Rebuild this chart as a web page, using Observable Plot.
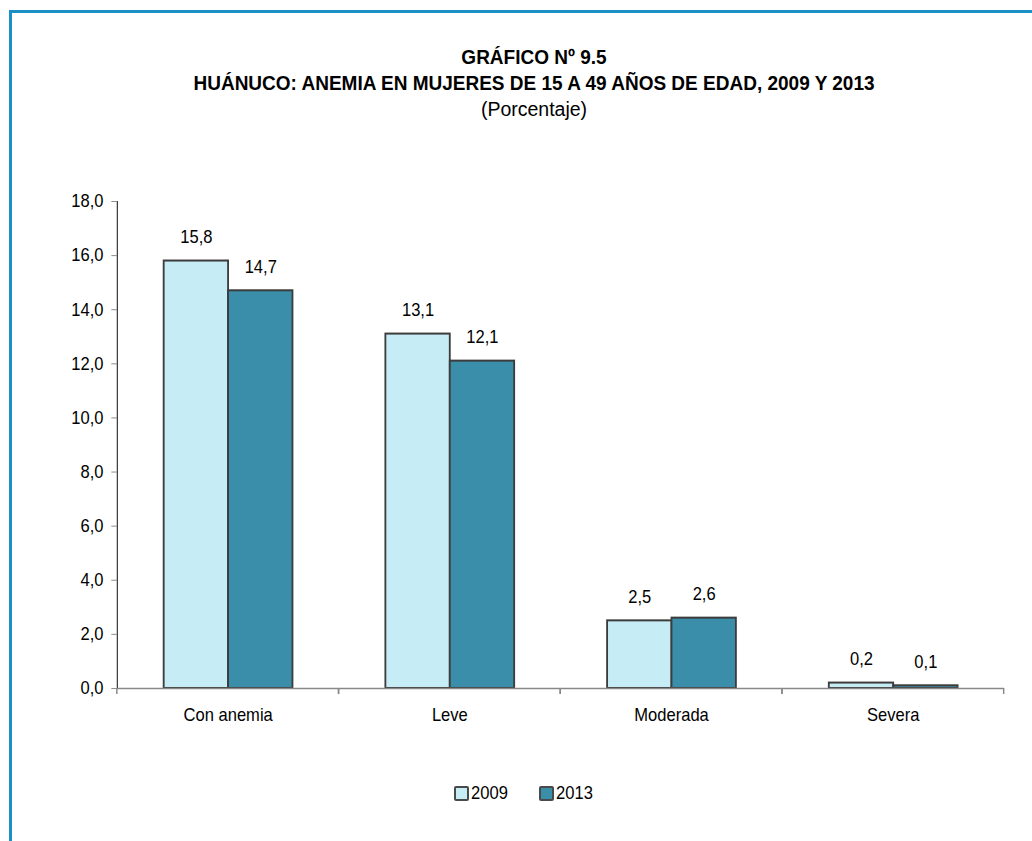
<!DOCTYPE html>
<html>
<head>
<meta charset="utf-8">
<script src="https://cdn.jsdelivr.net/npm/d3@7"></script>
<script src="https://cdn.jsdelivr.net/npm/@observablehq/plot@0.6"></script>
<style>
  html, body { margin: 0; padding: 0; background: #fff; }
  body { width: 1032px; height: 841px; position: relative; overflow: hidden;
         font-family: "Liberation Sans", Arial, sans-serif; color: #000; }
  #frame { position: absolute; left: 9px; top: 10px; right: -10px; bottom: -10px;
           border-top: 3px solid #1a90c6; border-left: 3px solid #1a90c6; }
  #title { position: absolute; left: 0; width: 1068px; top: 44px; text-align: center; }
  #title div { transform: scaleX(0.95); transform-origin: 534px 0; }
  #title .t1, #title .t2 { font-weight: bold; font-size: 20px; line-height: 26px; }
  #title .t3 { font-size: 19.5px; line-height: 26px; transform: none; }
  #chart { position: absolute; left: 0; top: 150px; width: 1032px; height: 583px; overflow: visible; }
  #chart svg { max-width: none !important; width: 1121.7px !important; height: 583px !important;
               transform: scaleX(0.92); transform-origin: 0 0; }
  #chart [aria-label^="y-axis"] path, #chart [aria-label^="y-axis"] line { stroke: #888; }
  #legend { position: absolute; top: 783px; left: 454px; display: flex; align-items: center; font-size: 18px; }
  #legend .item { display: flex; align-items: center; margin-right: 30px; }
  #legend .item span { display: inline-block; transform: scaleX(0.92); transform-origin: 0 50%; width: 38px; }
  #legend .sw { width: 11px; height: 11px; border: 2px solid #4a4a4a; border-radius: 2px; margin-right: 2px; }
</style>
</head>
<body>
<div id="frame"></div>
<div id="title">
  <div class="t1">GRÁFICO Nº 9.5</div>
  <div class="t2">HUÁNUCO: ANEMIA EN MUJERES DE 15 A 49 AÑOS DE EDAD, 2009 Y 2013</div>
  <div class="t3">(Porcentaje)</div>
</div>
<div id="chart"></div>
<div id="legend"></div>
<script>
const categories = ["Con anemia", "Leve", "Moderada", "Severa"];
const years = ["2009", "2013"];
const values2009 = [15.8, 13.1, 2.5, 0.2];
const values2013 = [14.7, 12.1, 2.6, 0.1];
const yTicks = [0, 2, 4, 6, 8, 10, 12, 14, 16, 18];
const colors = ["#c6ecf6", "#3a8ea9"];

const data = [];
categories.forEach((c, i) => {
  data.push({cat: c, year: "2009", value: values2009[i]});
  data.push({cat: c, year: "2013", value: values2013[i]});
});
const fmt = v => v.toFixed(1).replace(".", ",");

// text is drawn slightly narrow: the whole svg is compressed horizontally by S
const S = 0.92;

function boundaryTicks(index, scales, values, dims) {
  const g = d3.create("svg:g").attr("stroke", "#888").attr("stroke-width", 1.6);
  const y0 = scales.y(0);
  for (const x of [dims.marginLeft, dims.width - dims.marginRight]) {
    g.append("line").attr("x1", x).attr("x2", x).attr("y1", y0).attr("y2", y0 + 6);
  }
  return g.node();
}

const chart = Plot.plot({
  width: 1032 / S,
  height: 583,
  marginLeft: 116 / S,
  marginRight: 27 / S,
  marginTop: 51,
  marginBottom: 45,
  style: {fontFamily: '"Liberation Sans", Arial, sans-serif', fontSize: "18px", color: "#000", background: "transparent"},
  fx: {domain: categories, padding: 0, axis: "bottom", tickSize: 0, tickPadding: 20, label: null},
  x: {domain: years, axis: null, paddingInner: 0, paddingOuter: 0.72},
  y: {domain: [0, 18], ticks: yTicks, tickSize: 6, tickPadding: 9, tickFormat: fmt, label: null, line: true},
  color: {domain: years, range: colors},
  marks: [
    Plot.barY(data, {fx: "cat", x: "year", y: "value", fill: "year", stroke: "#3c3c3c", strokeWidth: 2}),
    Plot.ruleY([0], {stroke: "#888", strokeWidth: 1.5}),
    boundaryTicks,
    Plot.text(data, {fx: "cat", x: "year", y: "value", text: d => fmt(d.value), dy: -24, fontSize: 18})
  ]
});
document.getElementById("chart").appendChild(chart);

const legend = document.getElementById("legend");
years.forEach((y, i) => {
  const item = document.createElement("div");
  item.className = "item";
  const sw = document.createElement("div");
  sw.className = "sw";
  sw.style.background = colors[i];
  const t = document.createElement("span");
  t.textContent = y;
  item.appendChild(sw);
  item.appendChild(t);
  legend.appendChild(item);
});
</script>
</body>
</html>
